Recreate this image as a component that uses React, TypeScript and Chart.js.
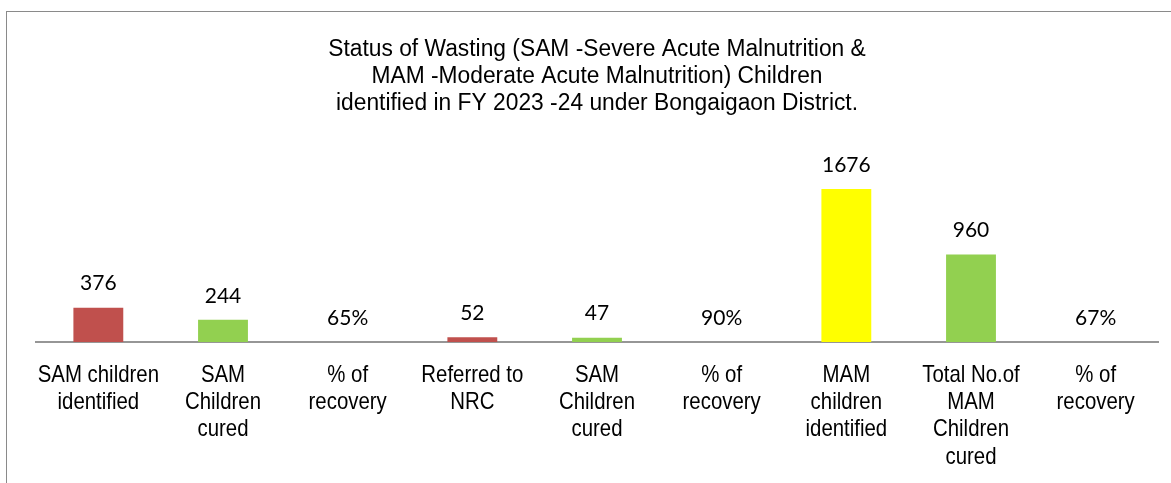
import React, { useEffect, useRef } from "react";
import { Chart, registerables } from "chart.js";

Chart.register(...registerables);

const titleLines = [
  "Status of Wasting (SAM -Severe Acute Malnutrition &",
  "MAM -Moderate Acute Malnutrition) Children",
  "identified in FY 2023 -24 under Bongaigaon District.",
];

const categories = [
  ["SAM children", "identified"],
  ["SAM", "Children", "cured"],
  ["% of", "recovery"],
  ["Referred to", "NRC"],
  ["SAM", "Children", "cured"],
  ["% of", "recovery"],
  ["MAM", "children", "identified"],
  ["Total No.of", "MAM", "Children", "cured"],
  ["% of", "recovery"],
];

const values = [376, 244, 0.65, 52, 47, 0.9, 1676, 960, 0.67];

const RED = "#C0504D";
const GREEN = "#92D050";
const YELLOW = "#FFFF00";
const barColors = [RED, GREEN, GREEN, RED, GREEN, GREEN, YELLOW, GREEN, GREEN];

const SANS = "'Liberation Sans', Arial, sans-serif";

const formatValue = (v: number) => (v < 1 ? Math.round(v * 100) + "%" : String(v));

// draws condensed (Arial Narrow-like) text: regular sans squeezed horizontally
function drawCondensed(ctx: CanvasRenderingContext2D, text: string, x: number, y: number, sx: number) {
  ctx.save();
  ctx.translate(x, y);
  ctx.scale(sx, 1);
  ctx.fillText(text, 0, 0);
  ctx.restore();
}

const textPlugin = {
  id: "textLayer",
  afterDraw(chart: any) {
    const ctx: CanvasRenderingContext2D = chart.ctx;
    const xScale = chart.scales.x;
    const area = chart.chartArea;
    ctx.save();
    ctx.fillStyle = "#000";
    ctx.textAlign = "center";
    ctx.textBaseline = "middle";

    // title
    ctx.font = `23.5px ${SANS}`;
    const cx = (area.left + area.right) / 2;
    titleLines.forEach((line, j) => drawCondensed(ctx, line, cx, 50 + j * 27, 0.97));

    // category labels
    ctx.font = `24px ${SANS}`;
    const y0 = xScale.top + 33;
    (chart.data.labels as string[][]).forEach((lines, i) => {
      const x = xScale.getPixelForTick(i);
      lines.forEach((line, j) => drawCondensed(ctx, line, x, y0 + j * 27.3, 0.85));
    });

    // value labels
    ctx.font = "21px Lato, 'Noto Sans', sans-serif";
    const meta = chart.getDatasetMeta(0);
    meta.data.forEach((el: any, i: number) => {
      const v = chart.data.datasets[0].data[i] as number;
      ctx.fillText(formatValue(v), el.x, el.y - 24);
    });
    ctx.restore();
  },
};

export default function App() {
  const ref = useRef<HTMLCanvasElement>(null);

  useEffect(() => {
    if (!ref.current) return;
    const chart = new Chart(ref.current, {
      type: "bar",
      data: {
        labels: categories,
        datasets: [
          {
            data: values,
            backgroundColor: barColors,
            borderWidth: 0,
            barPercentage: 0.4,
            categoryPercentage: 1,
          },
        ],
      },
      options: {
        animation: false,
        responsive: false,
        maintainAspectRatio: false,
        layout: { padding: { left: 36, right: 13, top: 159.5, bottom: 141 } },
        plugins: {
          legend: { display: false },
          tooltip: { enabled: false },
          title: { display: false },
        },
        scales: {
          x: {
            grid: { display: false, drawTicks: false },
            border: { display: true, color: "#969696", width: 2 },
            ticks: { display: false },
          },
          y: {
            display: false,
            min: 0,
            max: 2000,
          },
        },
      },
      plugins: [textPlugin],
    });
    return () => chart.destroy();
  }, []);

  return (
    <div
      style={{
        position: "fixed",
        left: 0,
        top: 0,
        width: 1171,
        height: 483,
        overflow: "hidden",
        background: "#fff",
      }}
    >
      <div
        style={{
          position: "absolute",
          left: 6,
          top: 11,
          width: 1200,
          height: 520,
          border: "1.5px solid #8a8a8a",
        }}
      />
      <canvas
        ref={ref}
        width={1171}
        height={483}
        style={{ position: "absolute", left: 0, top: 0, width: 1171, height: 483 }}
      />
    </div>
  );
}
